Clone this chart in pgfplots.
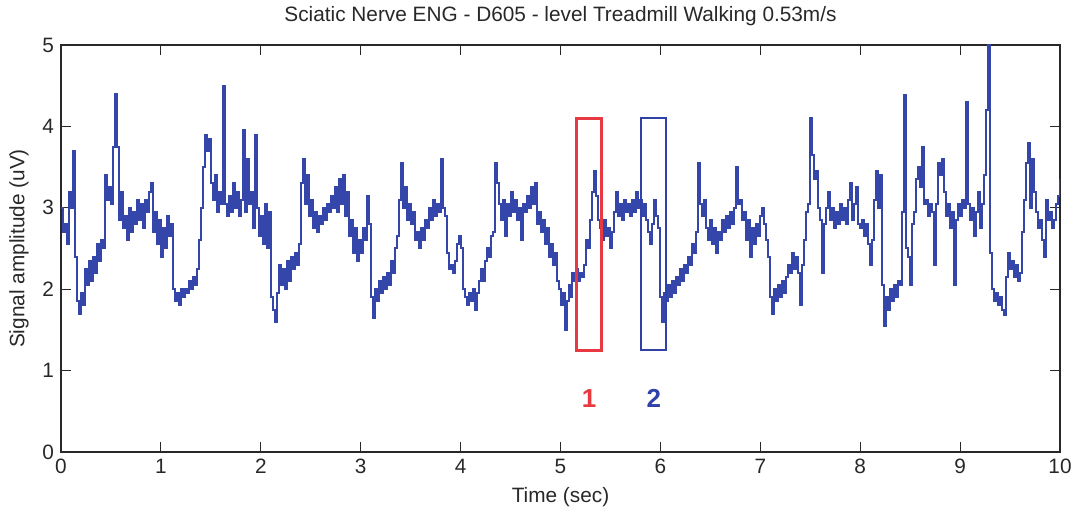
\documentclass[border=0pt]{standalone}
\usepackage{pgfplots}
\pgfplotsset{compat=1.18}
\usepackage{fontspec}
\setmainfont{Liberation Sans}
\definecolor{trace}{RGB}{52,70,170}
\definecolor{boxred}{RGB}{232,56,66}
\definecolor{boxblue}{RGB}{48,66,168}
\definecolor{axisgray}{RGB}{40,40,40}
\begin{document}
\begin{tikzpicture}
\begin{axis}[
  name=ax,
  scale only axis,
  width=499.5pt, height=203.5pt,
  xmin=0, xmax=10, ymin=0, ymax=5,
  xtick={0,1,...,10}, ytick={0,1,...,5},
  tick align=inside,
  major tick length=5pt,
  tick style={line width=0.5pt, color=axisgray},
  axis line style={line width=0.7pt, color=axisgray},
  /pgf/number format/assume math mode=true,
  ticklabel style={font=\fontsize{10.4}{12}\selectfont, text=axisgray},
  label style={font=\fontsize{10.4}{12}\selectfont, text=axisgray},
  title style={font=\fontsize{10.4}{12}\selectfont, text=axisgray},
  title={Sciatic Nerve ENG - D605 - level Treadmill Walking 0.53m/s},
  xlabel={Time (sec)},
  ylabel={Signal amplitude (uV)},
  clip=true,
]
% ENG envelope, sampled every 20 ms
\addplot[const plot, color=trace, line width=1pt] coordinates {
(0.00,3.00) (0.02,2.70) (0.04,2.80) (0.06,2.55) (0.08,3.20) (0.10,3.00) (0.12,3.70) (0.14,2.40) (0.16,1.85) (0.18,1.70)
(0.20,1.95) (0.22,1.80) (0.24,2.25) (0.26,2.05) (0.28,2.35) (0.30,2.10) (0.32,2.40) (0.34,2.20) (0.36,2.55) (0.38,2.35)
(0.40,2.60) (0.42,2.50) (0.44,3.40) (0.46,3.10) (0.48,3.25) (0.50,3.05) (0.52,3.75) (0.54,4.40) (0.56,3.75) (0.58,2.85)
(0.60,3.20) (0.62,2.75) (0.64,2.90) (0.66,2.60) (0.68,3.00) (0.70,2.70) (0.72,2.95) (0.74,2.80) (0.76,3.10) (0.78,2.85)
(0.80,3.05) (0.82,2.75) (0.84,3.10) (0.86,2.95) (0.88,3.20) (0.90,3.30) (0.92,2.70) (0.94,2.95) (0.96,2.55) (0.98,2.85)
(1.00,2.40) (1.02,2.75) (1.04,2.50) (1.06,2.90) (1.08,2.65) (1.10,2.80) (1.12,2.00) (1.14,1.85) (1.16,1.95) (1.18,1.80)
(1.20,2.00) (1.22,1.90) (1.24,2.00) (1.26,1.95) (1.28,2.10) (1.30,2.00) (1.32,2.15) (1.34,2.05) (1.36,2.25) (1.38,2.60)
(1.40,3.00) (1.42,3.50) (1.44,3.90) (1.46,3.70) (1.48,3.85) (1.50,3.30) (1.52,3.10) (1.54,3.40) (1.56,2.95) (1.58,3.20)
(1.60,3.05) (1.62,4.50) (1.64,3.05) (1.66,2.90) (1.68,3.15) (1.70,2.95) (1.72,3.30) (1.74,3.00) (1.76,3.20) (1.78,2.90)
(1.80,3.10) (1.82,3.95) (1.84,2.95) (1.86,3.60) (1.88,3.05) (1.90,3.20) (1.92,2.75) (1.94,3.90) (1.96,3.00) (1.98,2.65)
(2.00,2.90) (2.02,2.55) (2.04,3.05) (2.06,2.50) (2.08,2.95) (2.10,1.90) (2.12,1.75) (2.14,1.60) (2.16,1.95) (2.18,2.30)
(2.20,2.05) (2.22,2.25) (2.24,2.00) (2.26,2.35) (2.28,2.10) (2.30,2.40) (2.32,2.25) (2.34,2.45) (2.36,2.30) (2.38,2.55)
(2.40,3.30) (2.42,3.60) (2.44,3.05) (2.46,3.40) (2.48,2.90) (2.50,3.10) (2.52,2.75) (2.54,2.95) (2.56,2.70) (2.58,2.90)
(2.60,2.80) (2.62,3.00) (2.64,2.85) (2.66,3.05) (2.68,2.95) (2.70,3.15) (2.72,3.00) (2.74,3.25) (2.76,2.95) (2.78,3.35)
(2.80,3.05) (2.82,3.40) (2.84,2.90) (2.86,3.20) (2.88,2.65) (2.90,2.85) (2.92,2.45) (2.94,2.75) (2.96,2.35) (2.98,2.60)
(3.00,2.45) (3.02,2.75) (3.04,2.60) (3.06,3.15) (3.08,2.80) (3.10,1.90) (3.12,1.65) (3.14,2.00) (3.16,1.85) (3.18,2.10)
(3.20,1.95) (3.22,2.15) (3.24,2.00) (3.26,2.20) (3.28,2.05) (3.30,2.35) (3.32,2.20) (3.34,2.50) (3.36,2.65) (3.38,3.10)
(3.40,3.55) (3.42,3.00) (3.44,3.25) (3.46,2.85) (3.48,3.05) (3.50,2.80) (3.52,2.95) (3.54,2.60) (3.56,2.70) (3.58,2.50)
(3.60,2.75) (3.62,2.60) (3.64,2.85) (3.66,2.75) (3.68,3.00) (3.70,2.85) (3.72,3.10) (3.74,2.90) (3.76,3.05) (3.78,2.95)
(3.80,3.60) (3.82,3.00) (3.84,2.90) (3.86,2.45) (3.88,2.25) (3.90,2.30) (3.92,2.20) (3.94,2.35) (3.96,2.55) (3.98,2.65)
(4.00,2.50) (4.02,2.00) (4.04,1.90) (4.06,1.80) (4.08,1.95) (4.10,1.85) (4.12,2.00) (4.14,1.75) (4.16,1.95) (4.18,2.10)
(4.20,2.25) (4.22,2.10) (4.24,2.35) (4.26,2.50) (4.28,2.40) (4.30,2.65) (4.32,2.70) (4.34,3.55) (4.36,3.30) (4.38,3.05)
(4.40,2.85) (4.42,3.10) (4.44,2.65) (4.46,3.05) (4.48,2.90) (4.50,3.20) (4.52,2.95) (4.54,3.10) (4.56,2.85) (4.58,3.00)
(4.60,2.60) (4.62,3.05) (4.64,2.95) (4.66,3.15) (4.68,3.00) (4.70,3.25) (4.72,3.05) (4.74,3.30) (4.76,2.80) (4.78,2.95)
(4.80,2.70) (4.82,2.85) (4.84,2.55) (4.86,2.75) (4.88,2.40) (4.90,2.55) (4.92,2.30) (4.94,2.45) (4.96,2.10) (4.98,2.00)
(5.00,1.80) (5.02,1.95) (5.04,1.50) (5.06,1.85) (5.08,2.05) (5.10,1.90) (5.12,2.20) (5.14,2.10) (5.16,2.25) (5.18,2.10)
(5.20,2.20) (5.22,2.15) (5.24,2.30) (5.26,2.60) (5.28,2.50) (5.30,2.85) (5.32,3.20) (5.34,3.45) (5.36,3.15) (5.38,2.85)
(5.40,2.75) (5.42,2.60) (5.44,2.85) (5.46,2.65) (5.48,2.75) (5.50,2.50) (5.52,2.70) (5.54,2.95) (5.56,3.20) (5.58,2.90)
(5.60,3.05) (5.62,2.85) (5.64,3.10) (5.66,2.95) (5.68,3.05) (5.70,2.90) (5.72,3.10) (5.74,2.95) (5.76,3.20) (5.78,3.00)
(5.80,3.10) (5.82,2.90) (5.84,3.05) (5.86,2.85) (5.88,2.70) (5.90,2.55) (5.92,2.80) (5.94,3.10) (5.96,2.90) (5.98,2.75)
(6.00,1.90) (6.02,1.60) (6.04,1.95) (6.06,1.85) (6.08,2.05) (6.10,1.90) (6.12,2.10) (6.14,1.95) (6.16,2.15) (6.18,2.05)
(6.20,2.25) (6.22,2.10) (6.24,2.30) (6.26,2.20) (6.28,2.40) (6.30,2.30) (6.32,2.55) (6.34,2.45) (6.36,2.70) (6.38,3.55)
(6.40,3.05) (6.42,2.90) (6.44,3.10) (6.46,2.75) (6.48,2.60) (6.50,2.85) (6.52,2.55) (6.54,2.75) (6.56,2.45) (6.58,2.70)
(6.60,2.60) (6.62,2.85) (6.64,2.70) (6.66,2.90) (6.68,2.75) (6.70,2.95) (6.72,2.80) (6.74,3.00) (6.76,3.50) (6.78,3.05)
(6.80,3.10) (6.82,2.85) (6.84,2.95) (6.86,2.60) (6.88,2.85) (6.90,2.40) (6.92,2.75) (6.94,2.55) (6.96,2.80) (6.98,2.65)
(7.00,2.90) (7.02,3.00) (7.04,2.80) (7.06,2.60) (7.08,2.40) (7.10,1.90) (7.12,1.70) (7.14,2.00) (7.16,1.85) (7.18,2.05)
(7.20,1.90) (7.22,2.10) (7.24,1.95) (7.26,2.15) (7.28,2.30) (7.30,2.20) (7.32,2.45) (7.34,2.25) (7.36,2.40) (7.38,2.20)
(7.40,1.80) (7.42,2.30) (7.44,2.60) (7.46,2.95) (7.48,3.05) (7.50,4.10) (7.52,3.65) (7.54,3.35) (7.56,3.45) (7.58,3.00)
(7.60,2.85) (7.62,2.20) (7.64,2.80) (7.66,3.00) (7.68,3.20) (7.70,2.85) (7.72,3.00) (7.74,2.75) (7.76,2.95) (7.78,2.80)
(7.80,3.05) (7.82,2.85) (7.84,3.00) (7.86,2.80) (7.88,3.10) (7.90,3.30) (7.92,2.85) (7.94,3.05) (7.96,3.25) (7.98,2.80)
(8.00,2.75) (8.02,2.85) (8.04,2.65) (8.06,2.80) (8.08,2.55) (8.10,2.30) (8.12,2.60) (8.14,3.10) (8.16,3.45) (8.18,3.00)
(8.20,3.40) (8.22,2.05) (8.24,1.55) (8.26,1.90) (8.28,1.75) (8.30,2.00) (8.32,1.85) (8.34,2.05) (8.36,1.90) (8.38,2.10)
(8.40,2.05) (8.42,2.95) (8.44,4.38) (8.46,2.50) (8.48,2.40) (8.50,2.05) (8.52,2.80) (8.54,2.95) (8.56,3.35) (8.58,3.50)
(8.60,3.25) (8.62,3.75) (8.64,3.05) (8.66,3.10) (8.68,2.90) (8.70,3.05) (8.72,2.95) (8.74,2.30) (8.76,3.05) (8.78,3.55)
(8.80,3.40) (8.82,3.60) (8.84,3.20) (8.86,2.90) (8.88,3.05) (8.90,2.75) (8.92,2.95) (8.94,2.05) (8.96,2.85) (8.98,3.05)
(9.00,2.90) (9.02,3.10) (9.04,3.00) (9.06,4.30) (9.08,3.05) (9.10,2.85) (9.12,3.00) (9.14,2.65) (9.16,2.95) (9.18,3.20)
(9.20,2.75) (9.22,3.05) (9.24,3.40) (9.26,4.20) (9.28,5.00) (9.30,2.45) (9.32,2.00) (9.34,1.85) (9.36,1.95) (9.38,1.80)
(9.40,1.90) (9.42,1.75) (9.44,1.68) (9.46,2.15) (9.48,2.45) (9.50,2.25) (9.52,2.35) (9.54,2.15) (9.56,2.30) (9.58,2.10)
(9.60,2.20) (9.62,2.70) (9.64,3.10) (9.66,3.55) (9.68,3.80) (9.70,3.00) (9.72,3.60) (9.74,3.20) (9.76,2.95) (9.78,2.75)
(9.80,2.85) (9.82,2.60) (9.84,2.40) (9.86,3.10) (9.88,2.85) (9.90,2.95) (9.92,2.75) (9.94,2.85) (9.96,3.05) (9.98,3.15)
(10.00,3.35)
};
% highlighted windows
\addplot[color=boxred, line width=1.5pt, sharp plot] coordinates {
(5.16,1.25) (5.41,1.25) (5.41,4.10) (5.16,4.10) (5.16,1.25)} -- cycle;
\addplot[color=boxblue, line width=1pt, sharp plot] coordinates {
(5.81,1.25) (6.06,1.25) (6.06,4.10) (5.81,4.10) (5.81,1.25)} -- cycle;
\node[text=boxred, font=\fontsize{13}{14}\bfseries] at (axis cs:5.285,0.66) {1};
\node[text=boxblue, font=\fontsize{13}{14}\bfseries] at (axis cs:5.935,0.66) {2};
\end{axis}
\pgfresetboundingbox
\path ([shift={(-30.5pt,-33pt)}]ax.south west) rectangle ([shift={(10pt,22.5pt)}]ax.north east);
\end{tikzpicture}
\end{document}
